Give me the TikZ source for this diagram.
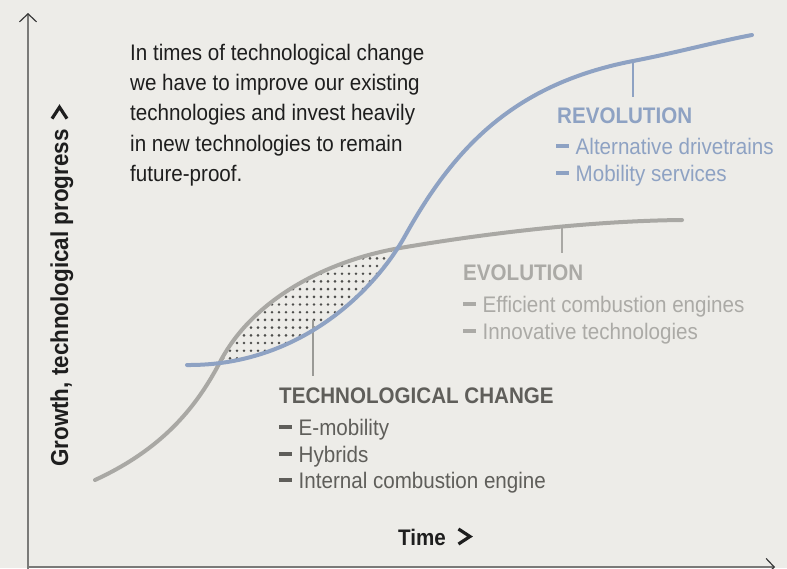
\documentclass[tikz,border=0pt]{standalone}
\usepackage{fontspec}
\setmainfont[FakeStretch=0.915]{Liberation Sans}
\usetikzlibrary{arrows.meta}
\definecolor{bgc}{HTML}{EDECE8}
\definecolor{bluec}{HTML}{8EA2C3}
\definecolor{grayc}{HTML}{A9A8A4}
\definecolor{evotext}{HTML}{ABAAA6}
\definecolor{techtext}{HTML}{5F5E5A}
\definecolor{dotc}{HTML}{4E4E4C}
\definecolor{blk}{HTML}{1E1E1E}
\definecolor{axisc}{HTML}{7A7A78}
\definecolor{tipc}{HTML}{3A3A3A}
\definecolor{tickc}{HTML}{9A9A96}
\newcommand{\itemdash}{\rule[5.8pt]{13pt}{4.4pt}\hspace{6.5pt}}
\newcommand{\chev}{\tikz[baseline=0pt,x=1pt,y=1pt]\draw[line width=3.2pt,line cap=butt,line join=miter] (1.5,1) -- (13,8.5) -- (1.5,16);}
\begin{document}
\begin{tikzpicture}[x=1pt,y=-1pt,
  txt/.style={inner sep=0pt, anchor=base west, font=\fontsize{22.5}{27}\selectfont},
  head/.style={txt, font=\fontsize{22.5}{27}\selectfont\bfseries},
  axis/.style={draw=axisc, line width=2pt,
    -{Straight Barb[length=8pt,width=17pt,line width=1.2pt,color=tipc]}},
  curve/.style={line width=4pt, line cap=round},
  tickline/.style={line width=1.2pt}]
\useasboundingbox (0,0) rectangle (787,568);
\fill[bgc] (0,0) rectangle (787,568);

\def\graypath{(95,480) .. controls (160,450) and (195,410) .. (220,362) .. controls (254,297) and (330,260) .. (400,248) .. controls (470,236) and (580,221) .. (682,220)}
\def\bluepath{(187,365) .. controls (300,366) and (375,290) .. (405,236) .. controls (455,146) and (515,84) .. (633,61) .. controls (675,53) and (715,42) .. (752,35)}

% dotted lens between the curves
\begin{scope}
  \clip \bluepath -- (752,0) -- (187,0) -- cycle;
  \clip \graypath -- (682,568) -- (95,568) -- cycle;
  \foreach \i in {0,...,28} {
    \foreach \j in {0,...,16} {
      \fill[dotc] (216+7*\i, 250.6+7.7*\j) circle (1.45pt);
    }
  }
\end{scope}

% marker ticks
\coordinate (techtop) at (313,320);
\coordinate (techbot) at (313,376);
\coordinate (evotop) at (562,226);
\coordinate (evobot) at (562,253);
\coordinate (revtop) at (633,61);
\coordinate (revbot) at (633,97);
\draw[tickline, tickc] (techtop) -- (techbot);
\draw[tickline, grayc] (evotop) -- (evobot);
\draw[tickline, bluec, line width=1.5pt] (revtop) -- (revbot);

% evolution curve
\draw[curve, grayc] \graypath;
% revolution curve
\draw[curve, bluec] \bluepath;

% axes
\coordinate (origin) at (28,567);
\coordinate (ybot) at (28,570);
\coordinate (ytip) at (28,13);
\coordinate (xtip) at (775,567);
\draw[axis] (ybot) -- (ytip);
\draw[axis] (origin) -- (xtip);

% axis labels
\node[head, blk] (timelbl) at (398,545) {Time\hspace{11pt}\chev};
\node[txt, blk, rotate=90, font=\fontsize{24.5}{29}\selectfont\bfseries] (ylbl) at (68,467) {Growth, technological progress\hspace{9pt}\chev};

% intro text
\node[txt, blk] (intro1) at (130,60) {In times of technological change};
\node[txt, blk] (intro2) at (130,90) {we have to improve our existing};
\node[txt, blk] (intro3) at (130,120) {technologies and invest heavily};
\node[txt, blk] (intro4) at (130,151) {in new technologies to remain};
\node[txt, blk] (intro5) at (130,181) {future-proof.};

% revolution labels
\node[head, bluec] (revh) at (557,123) {REVOLUTION};
\node[txt, bluec] (rev1) at (556,154) {\itemdash Alternative drivetrains};
\node[txt, bluec] (rev2) at (556,181) {\itemdash Mobility services};

% evolution labels
\node[head, evotext] (evoh) at (463,280) {EVOLUTION};
\node[txt, evotext] (evo1) at (463,312) {\itemdash Efficient combustion engines};
\node[txt, evotext] (evo2) at (463,339) {\itemdash Innovative technologies};

% technological change labels
\node[head, techtext] (techh) at (279,403) {TECHNOLOGICAL CHANGE};
\node[txt, techtext] (tech1) at (279,435) {\itemdash E-mobility};
\node[txt, techtext] (tech2) at (279,462) {\itemdash Hybrids};
\node[txt, techtext] (tech3) at (279,488) {\itemdash Internal combustion engine};
\end{tikzpicture}
\end{document}
